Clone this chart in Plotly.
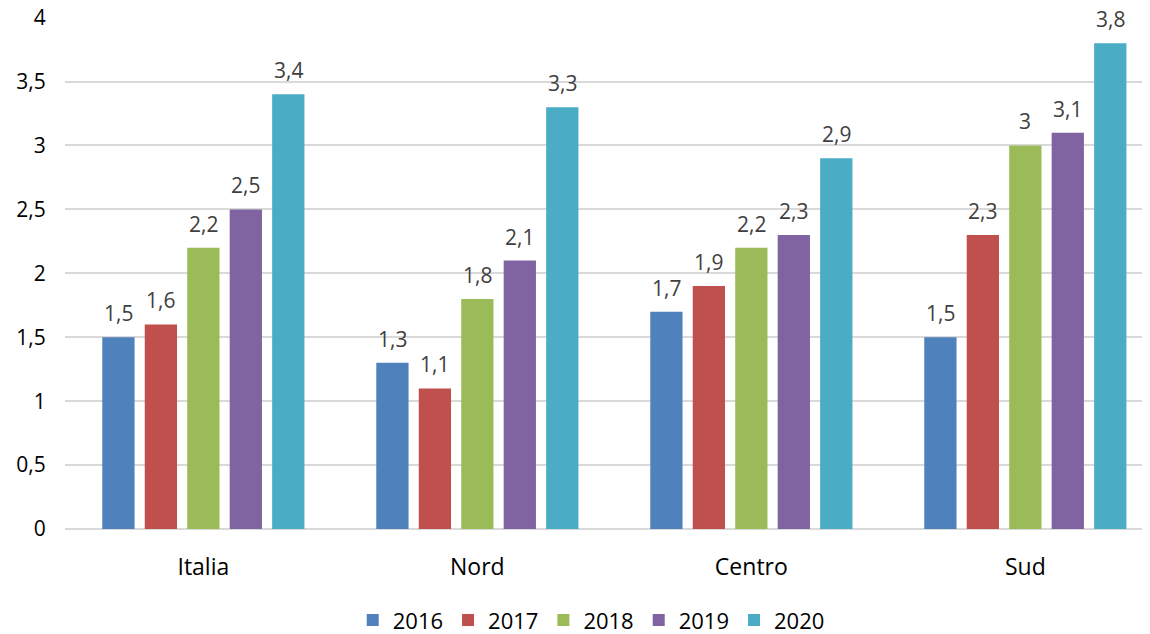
import plotly.graph_objects as go

areas = ["Italia", "Nord", "Centro", "Sud"]
years = ["2016", "2017", "2018", "2019", "2020"]
v2016 = [1.5, 1.3, 1.7, 1.5]
v2017 = [1.6, 1.1, 1.9, 2.3]
v2018 = [2.2, 1.8, 2.2, 3.0]
v2019 = [2.5, 2.1, 2.3, 3.1]
v2020 = [3.4, 3.3, 2.9, 3.8]
colors = ["#4F81BD", "#C0504D", "#9BBB59", "#8064A2", "#4BACC6"]

series = [v2016, v2017, v2018, v2019, v2020]

# page body has an 8px default margin, so the figure is a bit smaller than the window
W, H = 1142, 626
ML, MR, MT, MB = 57, 0, 9, 105
xrange_ = [-0.505, 3.455]
bargap, groupgap = 0.225, 0.24

fig = go.Figure()
for year, vals, col in zip(years, series, colors):
    fig.add_trace(go.Bar(
        x=areas, y=vals, name=year,
        marker=dict(color=col, line=dict(width=0)),
    ))

# data labels, shifted sideways to sit over each bar of the group
px_per_cat = (W - ML - MR) / (xrange_[1] - xrange_[0])
slot = px_per_cat * (1 - bargap) / len(years)
for i, vals in enumerate(series):
    for area, v in zip(areas, vals):
        fig.add_annotation(
            x=area, y=v, text=f"{v:g}".replace(".", ","),
            showarrow=False, yanchor="bottom", yshift=9, borderpad=0,
            xshift=(i - (len(years) - 1) / 2) * slot,
            font=dict(size=21, color="#404040"),
        )

fig.update_layout(
    width=W, height=H,
    margin=dict(l=ML, r=MR, t=MT, b=MB),
    paper_bgcolor="white", plot_bgcolor="white",
    font=dict(family="Open Sans, Liberation Sans, sans-serif", size=21, color="#000000"),
    separators=",.",
    barmode="group",
    bargap=bargap,
    bargroupgap=groupgap,
    showlegend=True,
    legend=dict(orientation="h", x=0.485, xanchor="center",
                yref="container", y=0.022, yanchor="middle",
                font=dict(size=22), itemwidth=30),
    xaxis=dict(range=xrange_, showgrid=False, showline=False, ticks="outside",
               ticklen=17, tickcolor="white", tickfont=dict(size=23), automargin=False),
    yaxis=dict(range=[0, 4.005], tickvals=[0, 0.5, 1, 1.5, 2, 2.5, 3, 3.5, 4],
               showgrid=True, gridcolor="#D9D9D9", gridwidth=1.5,
               zeroline=True, zerolinecolor="#D9D9D9", zerolinewidth=1.5,
               showline=False, ticks="outside", ticklen=14, tickcolor="white",
               tickfont=dict(size=21), ticklabeloverflow="allow", automargin=False),
)

fig.write_html("out.html")
